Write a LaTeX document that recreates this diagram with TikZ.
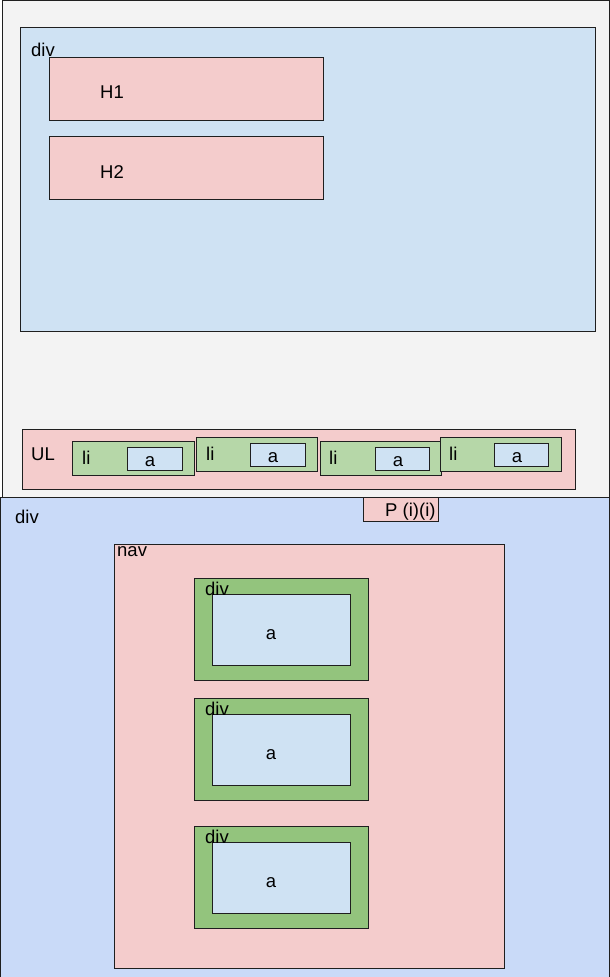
\documentclass[tikz,border=0pt]{standalone}
\usepackage{fontspec}
\setmainfont{Liberation Sans}
\definecolor{greybg}{HTML}{F3F3F3}
\definecolor{lblue}{HTML}{CFE2F3}
\definecolor{pinkbx}{HTML}{F4CCCC}
\definecolor{lgreen}{HTML}{B6D7A8}
\definecolor{dgreen}{HTML}{93C47D}
\definecolor{cblue}{HTML}{C9DAF8}
\definecolor{edge}{HTML}{1F1F1F}
\begin{document}
\begin{tikzpicture}[x=1pt,y=-1pt,
  bx/.style={draw=edge,line width=1pt},
  lbl/.style={inner sep=0pt,yshift=-1.5pt,font=\fontsize{18.5}{22}\selectfont},
  lw/.style={lbl,anchor=west}]
\useasboundingbox (0,0) rectangle (610,977);
% top outer area
\filldraw[bx,fill=greybg] (2,0) rectangle (609,497);
\filldraw[bx,fill=lblue] (20,27) rectangle (595,331);
\filldraw[bx,fill=pinkbx] (49,57) rectangle (323,120);
\filldraw[bx,fill=pinkbx] (49,136) rectangle (323,199);
\node[lw] (divtop) at (31,48) {div};
\node[lw] (h1) at (100,91) {H1};
\node[lw] (h2) at (100,171) {H2};
% UL
\filldraw[bx,fill=pinkbx] (22,429) rectangle (575,489);
\filldraw[bx,fill=lgreen] (72,441) rectangle (194,475);
\filldraw[bx,fill=lgreen] (196,437) rectangle (317,471);
\filldraw[bx,fill=lgreen] (320,441) rectangle (441,475);
\filldraw[bx,fill=lgreen] (440,437) rectangle (561,471);
\filldraw[bx,fill=lblue] (127,447) rectangle (182,470);
\filldraw[bx,fill=lblue] (250,443) rectangle (305,466);
\filldraw[bx,fill=lblue] (375,447) rectangle (429,470);
\filldraw[bx,fill=lblue] (494,443) rectangle (548,466);
\node[lw] (ul) at (31,453) {UL};
\node[lw] (li1) at (82,456) {li};
\node[lw] (li2) at (206,452) {li};
\node[lw] (li3) at (329,456) {li};
\node[lw] (li4) at (449,452) {li};
\node[lbl] (a1) at (150,460) {a};
\node[lbl] (a2) at (273,456) {a};
\node[lbl] (a3) at (398,460) {a};
\node[lbl] (a4) at (517,456) {a};
% bottom div
\filldraw[bx,fill=cblue] (0.5,497) rectangle (609.5,980);
\filldraw[bx,fill=pinkbx] (363,497) rectangle (438,521);
\node[lw] (p) at (385,510) {P (i)(i)};
\node[lw] (divbot) at (15,515) {div};
% nav
\filldraw[bx,fill=pinkbx] (114,544) rectangle (504,968);
\node[lw] (nav) at (117,550) {nav};
\foreach \t/\n in {578/1,698/2,826/3}{
  \filldraw[bx,fill=dgreen] (194,\t) rectangle (368,\t+102);
  \filldraw[bx,fill=lblue] (212,\t+16) rectangle (350,\t+87);
  \node[lw] (navdiv\n) at (205,\t+9) {div};
  \node[lbl] (nava\n) at (271,\t+55) {a};
}
\end{tikzpicture}
\end{document}
